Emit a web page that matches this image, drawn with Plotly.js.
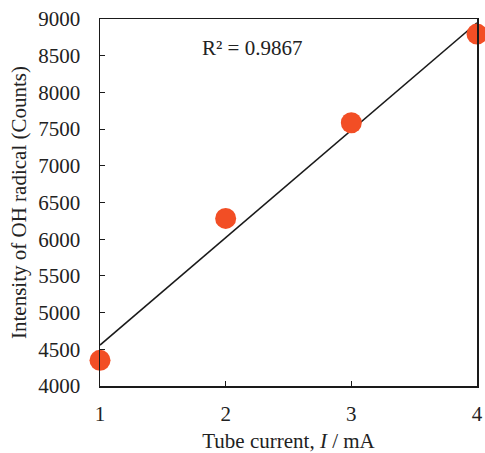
<!DOCTYPE html>
<html>
<head>
<meta charset="utf-8">
<script src="https://cdn.plot.ly/plotly-3.0.1.min.js"></script>
<style>html,body{margin:0;padding:0;background:#fff;}#chart{width:485px;height:453px;}</style>
</head>
<body>
<div id="chart"></div>
<script>
const current = [1, 2, 3, 4];
const intensity = [4350, 6283, 7586, 8795];
const xTicks = [1, 2, 3, 4];
const yTicks = [4000, 4500, 5000, 5500, 6000, 6500, 7000, 7500, 8000, 8500, 9000];
const r2Label = 'R² = 0.9867';

// linear regression from data
const n = current.length;
const mx = current.reduce((a, b) => a + b, 0) / n;
const my = intensity.reduce((a, b) => a + b, 0) / n;
let sxy = 0, sxx = 0;
for (let i = 0; i < n; i++) { sxy += (current[i] - mx) * (intensity[i] - my); sxx += (current[i] - mx) ** 2; }
const slope = sxy / sxx, icpt = my - slope * mx;
const fitX = [current[0], current[n - 1]];
const fitY = fitX.map(x => icpt + slope * x);

const font = {family: '"Liberation Serif", "Times New Roman", serif', color: '#222', size: 21};

const data = [
  {x: fitX, y: fitY, mode: 'lines', line: {color: '#1a1a1a', width: 1.5}, hoverinfo: 'skip', cliponaxis: false},
  {x: current, y: intensity, mode: 'markers', marker: {color: '#f24e25', size: 21}, cliponaxis: false}
];

const layout = {
  width: 485, height: 453,
  margin: {l: 100, r: 8, t: 19, b: 67},
  showlegend: false,
  paper_bgcolor: '#fff', plot_bgcolor: '#fff',
  font: font,
  xaxis: {
    range: [1, 4], tickvals: xTicks, ticktext: xTicks.map(String),
    showgrid: false, zeroline: false, showline: true, mirror: true, linecolor: '#1a1a1a', linewidth: 1.5,
    ticks: 'inside', ticklen: 5, tickcolor: '#1a1a1a', tickwidth: 1,
    tickfont: font, ticklabelstandoff: 8,
    title: {text: 'Tube current, <i>I</i> / mA', font: font, standoff: 8}
  },
  yaxis: {
    range: [4000, 9000], tickvals: yTicks, ticktext: yTicks.map(String),
    showgrid: false, zeroline: false, showline: true, mirror: true, linecolor: '#1a1a1a', linewidth: 1.5,
    ticks: 'inside', ticklen: 5, tickcolor: '#1a1a1a', tickwidth: 1,
    tickfont: font, ticklabelstandoff: 14,
    title: {text: 'Intensity of OH radical (Counts)', font: font, standoff: 6}
  },
  annotations: [{
    xref: 'paper', yref: 'paper', x: 0.403, y: 0.921, xanchor: 'center', yanchor: 'middle',
    text: r2Label, showarrow: false, font: font
  }]
};

Plotly.newPlot('chart', data, layout, {staticPlot: true, displayModeBar: false});
</script>
</body>
</html>
